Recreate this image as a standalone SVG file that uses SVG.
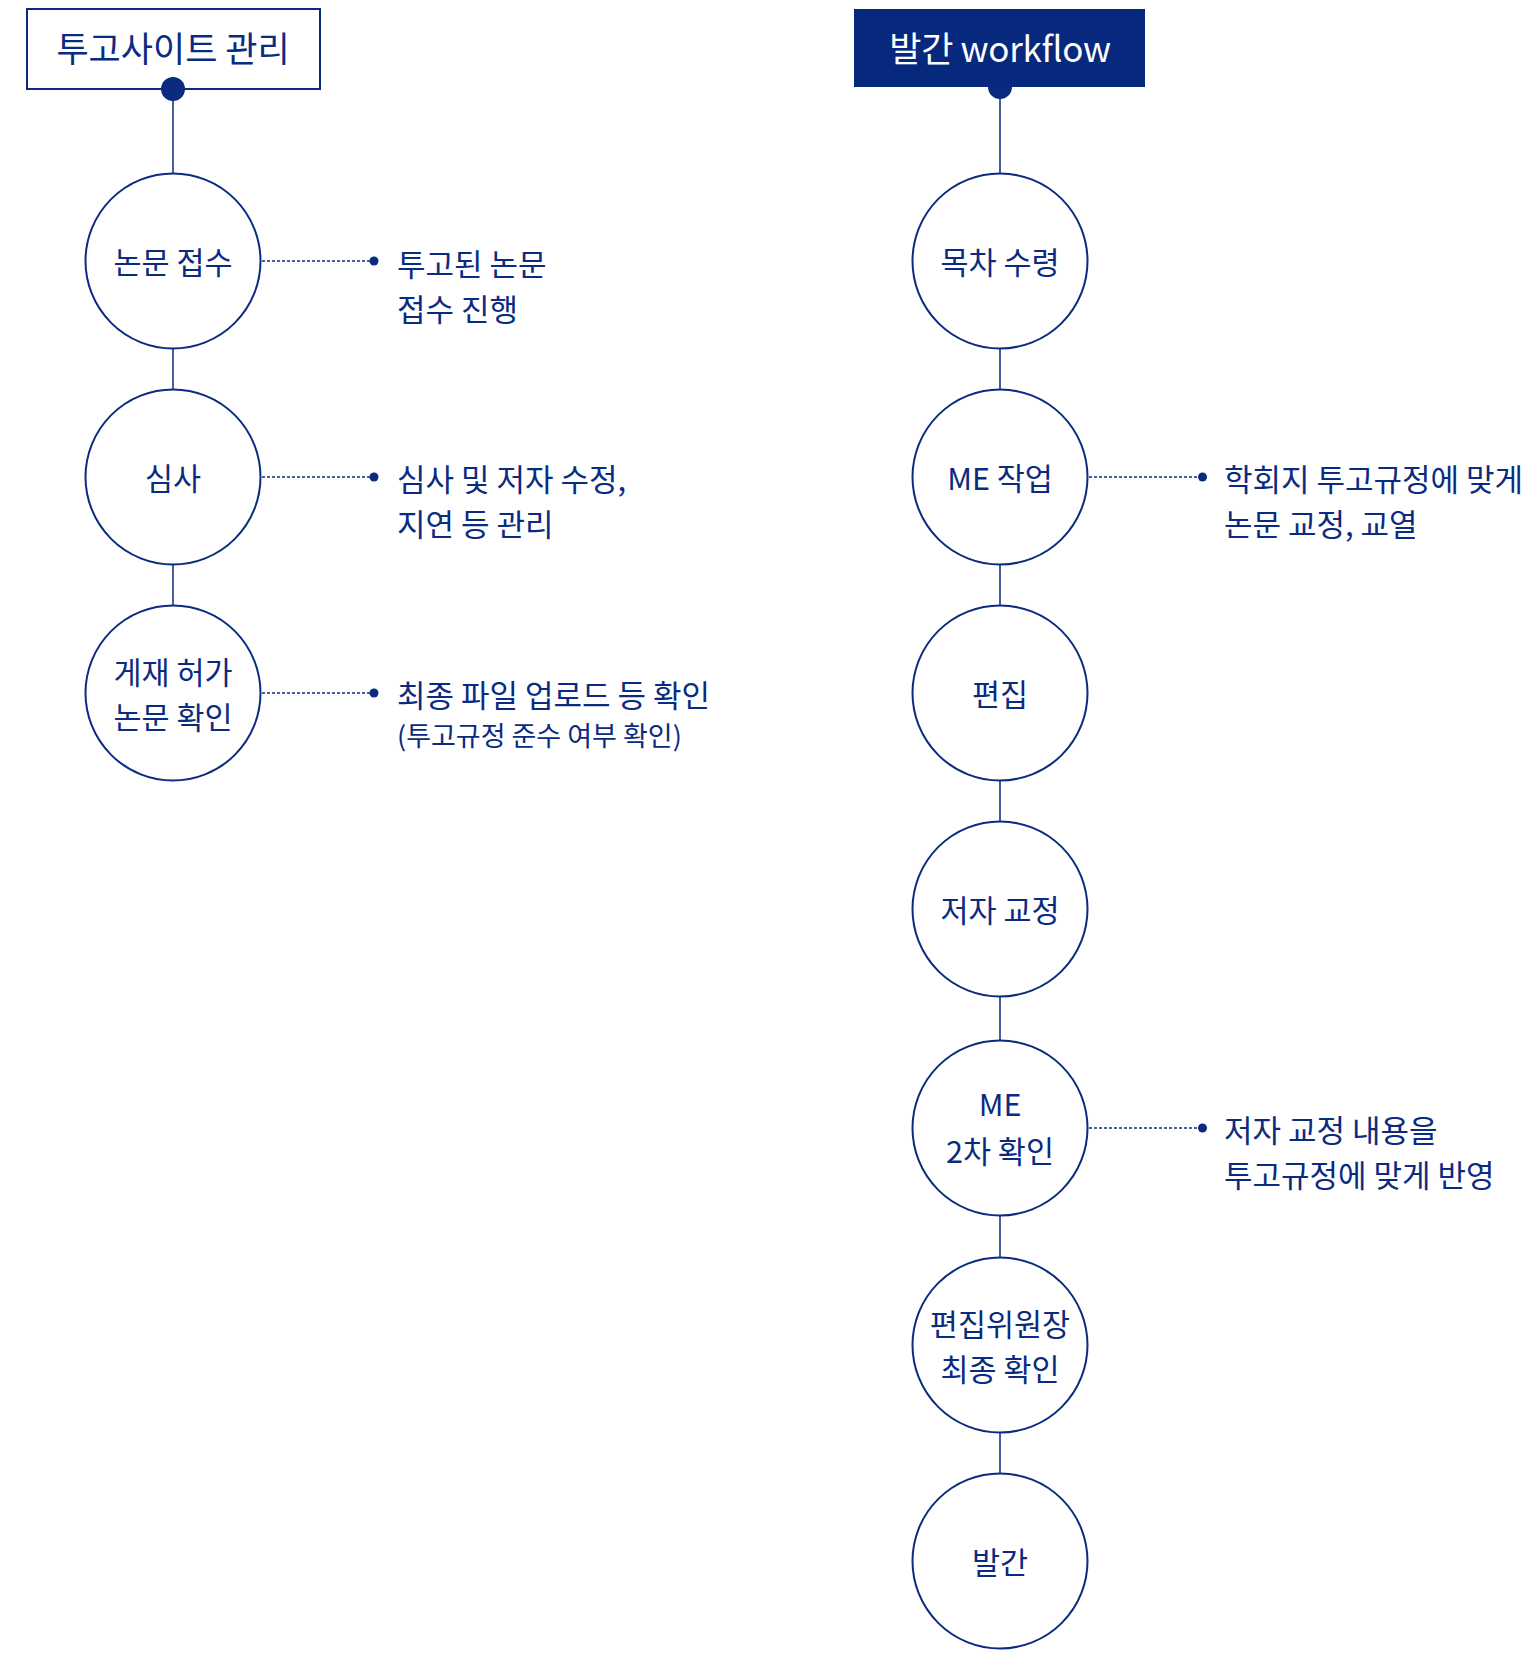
<svg xmlns="http://www.w3.org/2000/svg" width="1535" height="1657" viewBox="0 0 1535 1657">
<style>
.node{fill:#ffffff;stroke:#0a2b7f;stroke-width:2}
.lbl{font-family:"Noto Sans CJK KR","Noto Sans",sans-serif;font-size:30.5px;fill:#0a2b7f;text-anchor:middle}
.desc{font-family:"Noto Sans CJK KR","Noto Sans",sans-serif;font-size:31px;fill:#0a2b7f}
.small{font-size:27px}
.conn{stroke:#0a2b7f;stroke-width:1.5;fill:none}
.dot{stroke:#0a2b7f;stroke-width:1.5;stroke-dasharray:3 2;fill:none}
.pt{fill:#0a2b7f}
</style>
<rect width="1535" height="1657" fill="#ffffff"/>
<g id="connectors">
<line class="conn" x1="173" y1="89" x2="173" y2="174"/>
<line class="conn" x1="173" y1="348" x2="173" y2="390"/>
<line class="conn" x1="173" y1="564" x2="173" y2="606"/>
<line class="conn" x1="1000" y1="87" x2="1000" y2="174"/>
<line class="conn" x1="1000" y1="348" x2="1000" y2="390"/>
<line class="conn" x1="1000" y1="564" x2="1000" y2="606"/>
<line class="conn" x1="1000" y1="780" x2="1000" y2="822"/>
<line class="conn" x1="1000" y1="996" x2="1000" y2="1041"/>
<line class="conn" x1="1000" y1="1215" x2="1000" y2="1258"/>
<line class="conn" x1="1000" y1="1432" x2="1000" y2="1474"/>
<line class="dot" x1="262" y1="261" x2="372" y2="261"/>
<circle class="pt" cx="374" cy="261" r="4.5"/>
<line class="dot" x1="262" y1="477" x2="372" y2="477"/>
<circle class="pt" cx="374" cy="477" r="4.5"/>
<line class="dot" x1="262" y1="693" x2="372" y2="693"/>
<circle class="pt" cx="374" cy="693" r="4.5"/>
<line class="dot" x1="1089" y1="477" x2="1200" y2="477"/>
<circle class="pt" cx="1202.5" cy="477" r="4.5"/>
<line class="dot" x1="1089" y1="1128" x2="1200" y2="1128"/>
<circle class="pt" cx="1202.5" cy="1128" r="4.5"/>
</g>
<g id="header-left">
<rect x="27" y="9" width="293" height="80" fill="#ffffff" stroke="#0a2b7f" stroke-width="2"/>
<circle class="pt" cx="173" cy="89" r="12"/>
<text class="lbl" x="173" y="62" style="font-size:35px">투고사이트 관리</text>
</g>
<g id="header-right">
<circle class="pt" cx="1000" cy="87" r="12"/>
<rect x="854" y="9" width="291" height="78" fill="#06287d"/>
<text class="lbl" x="1000" y="62" style="font-size:35px;letter-spacing:-0.3px;fill:#ffffff">발간 workflow</text>
</g>
<g id="n-nonmun-jeopsu">
<circle class="node" cx="173" cy="261" r="87.5"/>
<text class="lbl" x="173" y="274">논문 접수</text>
</g>
<g id="n-simsa">
<circle class="node" cx="173" cy="477" r="87.5"/>
<text class="lbl" x="173" y="490">심사</text>
</g>
<g id="n-gejae">
<circle class="node" cx="173" cy="693" r="87.5"/>
<text class="lbl" x="173" y="684">게재 허가</text>
<text class="lbl" x="173" y="729">논문 확인</text>
</g>
<g id="d-left-1">
<text class="desc" x="397" y="276">투고된 논문</text>
<text class="desc" x="397" y="321">접수 진행</text>
</g>
<g id="d-left-2">
<text class="desc" x="397" y="491">심사 및 저자 수정,</text>
<text class="desc" x="397" y="536">지연 등 관리</text>
</g>
<g id="d-left-3">
<text class="desc" x="397" y="707">최종 파일 업로드 등 확인</text>
<text class="desc small" x="397" y="746">(투고규정 준수 여부 확인)</text>
</g>
<g id="n-mokcha">
<circle class="node" cx="1000" cy="261" r="87.5"/>
<text class="lbl" x="1000" y="274">목차 수령</text>
</g>
<g id="n-me">
<circle class="node" cx="1000" cy="477" r="87.5"/>
<text class="lbl" x="1000" y="490">ME 작업</text>
</g>
<g id="n-pyeonjip">
<circle class="node" cx="1000" cy="693" r="87.5"/>
<text class="lbl" x="1000" y="706">편집</text>
</g>
<g id="n-jeoja">
<circle class="node" cx="1000" cy="909" r="87.5"/>
<text class="lbl" x="1000" y="922">저자 교정</text>
</g>
<g id="n-me2">
<circle class="node" cx="1000" cy="1128" r="87.5"/>
<text class="lbl" x="1000" y="1116">ME</text>
<text class="lbl" x="1000" y="1163">2차 확인</text>
</g>
<g id="n-wiwonjang">
<circle class="node" cx="1000" cy="1345" r="87.5"/>
<text class="lbl" x="1000" y="1336">편집위원장</text>
<text class="lbl" x="1000" y="1381">최종 확인</text>
</g>
<g id="n-balgan">
<circle class="node" cx="1000" cy="1561" r="87.5"/>
<text class="lbl" x="1000" y="1574">발간</text>
</g>
<g id="d-right-1">
<text class="desc" x="1224" y="491">학회지 투고규정에 맞게</text>
<text class="desc" x="1224" y="536">논문 교정, 교열</text>
</g>
<g id="d-right-2">
<text class="desc" x="1224" y="1142">저자 교정 내용을</text>
<text class="desc" x="1224" y="1187">투고규정에 맞게 반영</text>
</g>
</svg>
